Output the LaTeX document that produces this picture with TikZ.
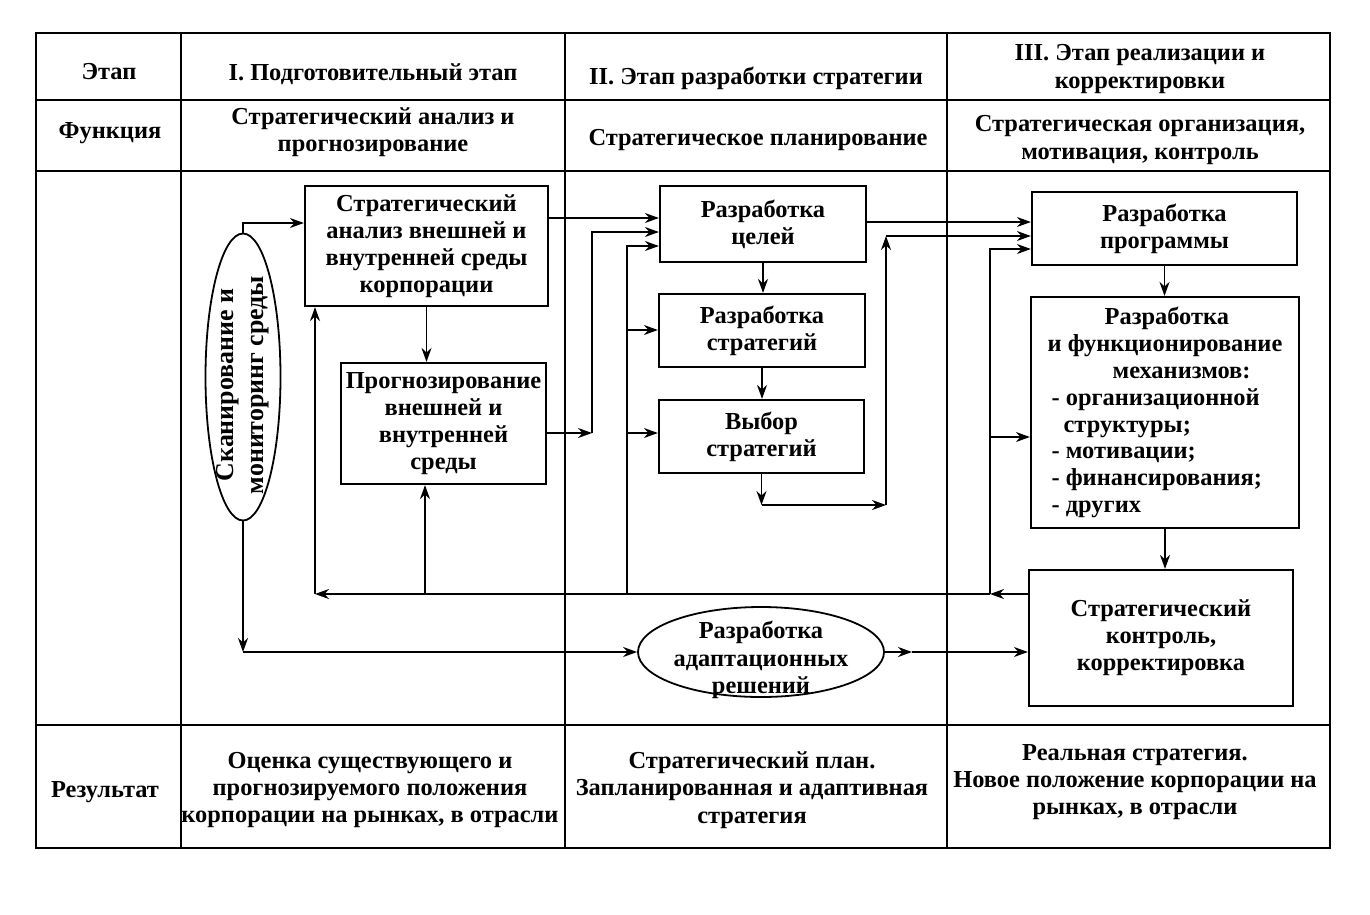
\documentclass[tikz,border=0pt]{standalone}
\usepackage{fontspec}
\setmainfont{Liberation Serif}
\usetikzlibrary{arrows.meta,shapes.geometric}
\begin{document}
\begin{tikzpicture}[x=1bp,y=-1bp,
  tline/.style={line width=1.6bp},
  box/.style={draw,line width=2.2bp,rectangle,inner sep=0pt,align=center,font=\bfseries\fontsize{24.5}{27}\selectfont},
  oval/.style={draw,line width=1.8bp,ellipse,inner sep=0pt},
  txt/.style={align=center,font=\bfseries\fontsize{24.5}{27.5}\selectfont,inner sep=0pt},
  arr/.style={line width=1.8bp,-{Stealth[length=14bp,width=10bp]}}
]
\fill[white] (0,0) rectangle (1370,914);
\useasboundingbox (0,0) rectangle (1370,914);
% table
\draw[tline] (36,33) rectangle (1330,848);
\draw[tline] (36,100) -- (1330,100);
\draw[tline] (36,171) -- (1330,171);
\draw[tline] (36,725) -- (1330,725);
\draw[tline] (181,33) -- (181,848);
\draw[tline] (565,33) -- (565,848);
\draw[tline] (947,33) -- (947,848);
% header texts
\node[txt] (h0) at (109,72) {Этап};
\node[txt] (h1) at (373,74) {I. Подготовительный этап};
\node[txt] (h2) at (756,78) {II. Этап разработки стратегии};
\node[txt] (h3) at (1140,69) {III. Этап реализации и\\корректировки};
\node[txt] (f0) at (110,133) {Функция};
\node[txt] (f1) at (373,132) {Стратегический анализ и\\прогнозирование};
\node[txt] (f2) at (758,140) {Стратегическое планирование};
\node[txt] (f3) at (1140,140) {Стратегическая организация,\\мотивация, контроль};
\node[txt] (r0) at (105,792) {Результат};
\node[txt] (r1) at (370,790) {Оценка существующего и\\прогнозируемого положения\\корпорации на рынках, в отрасли};
\node[txt] (r2) at (752,790) {Стратегический план.\\Запланированная и адаптивная\\стратегия};
\node[txt] (r3) at (1135,782) {Реальная стратегия.\\Новое положение корпорации на\\рынках, в отрасли};
% boxes
\node[box,minimum width=243bp,minimum height=120bp] (A) at (426.5,246) {Стратегический\\анализ внешней и\\внутренней среды\\корпорации};
\node[box,minimum width=205bp,minimum height=121bp] (B) at (443.5,423.5) {Прогнозирование\\внешней и\\внутренней\\среды};
\node[box,minimum width=206bp,minimum height=76bp] (C) at (763,224) {Разработка\\целей};
\node[box,minimum width=206bp,minimum height=73bp] (D) at (762,330.5) {Разработка\\стратегий};
\node[box,minimum width=205bp,minimum height=73bp] (E) at (761.5,436.5) {Выбор\\стратегий};
\node[box,minimum width=265bp,minimum height=73bp] (F) at (1164.5,228.5) {Разработка\\программы};
\node[box,align=left,minimum width=268bp,minimum height=231bp] (G) at (1165,412.5) {\hspace*{57bp}Разработка\\и функционирование\\\hspace*{65bp}механизмов:\\\hspace*{4bp}- организационной\\\hspace*{16bp}структуры;\\\hspace*{4bp}- мотивации;\\\hspace*{4bp}- финансирования;\\\hspace*{4bp}- других};
\node[box,minimum width=264bp,minimum height=136bp] (H) at (1161,638) {Стратегический\\контроль,\\корректировка};
% ellipses
\node[oval,minimum width=75bp,minimum height=287bp] (S) at (243,377) {};
\node[txt,rotate=90,font=\bfseries\fontsize{26}{30}\selectfont] (St) at (243,385) {Сканирование и\\мониторинг среды};
\node[oval,minimum width=246bp,minimum height=90bp] (I) at (761,652) {};
\node[txt] (It) at (761,660) {Разработка\\адаптационных\\решений};
% connectors
\coordinate (k1) at (0,223);
\draw[arr] (S.north) -- (S.north |- k1) -- (k1 -| A.west);
\draw[arr] (A.south) -- (A.south |- B.north);
\coordinate (k3) at (0,218);
\draw[arr] (k3 -| A.east) -- (k3 -| C.west);
\coordinate (j4) at (592,433);
\coordinate (j4b) at (592,232);
\draw[arr] (j4 -| B.east) -- (j4);
\draw[arr] (j4) -- (j4b) -- (j4b -| C.west);
% feedback
\coordinate (fbR) at (990,594);
\coordinate (fbL) at (315,594);
\draw[arr] (fbR -| H.west) -- (fbR);
\draw[arr] (fbR) -- (fbL);
\draw[arr] (fbL) -- (fbL |- A.south);
\coordinate (v1) at (425,594);
\draw[arr] (v1) -- (v1 |- B.south);
\coordinate (v2) at (627,594);
\coordinate (v2t) at (627,246);
\draw[arr] (v2) -- (v2t) -- (v2t -| C.west);
\coordinate (v2d) at (627,330);
\draw[arr] (v2d) -- (v2d -| D.west);
\coordinate (v2e) at (627,433);
\draw[arr] (v2e) -- (v2e -| E.west);
\coordinate (v3t) at (990,249);
\draw[arr] (fbR) -- (v3t) -- (v3t -| F.west);
\coordinate (v3g) at (990,437);
\draw[arr] (v3g) -- (v3g -| G.west);
% stage II chain
\draw[arr] (C.south) -- (C.south |- D.north);
\draw[arr] (D.south) -- (D.south |- E.north);
\coordinate (k6b) at (886,505);
\coordinate (k6c) at (886,236);
\draw[arr] (E.south) -- (E.south |- k6b);
\draw[arr] (E.south |- k6b) -- (k6b);
\draw[arr] (k6b) -- (k6c);
\draw[arr] (k6c) -- (k6c -| F.west);
\coordinate (k7) at (0,222);
\draw[arr] (k7 -| C.east) -- (k7 -| F.west);
% stage III chain
\draw[arr] (F.south) -- (F.south |- G.north);
\draw[arr] (G.south) -- (G.south |- H.north);
% adaptive
\draw[arr] (S.south) -- (S.south |- I.west);
\draw[arr] (S.south |- I.west) -- (I.west);
\coordinate (k12) at (912,652);
\draw[arr] (I.east) -- (k12);
\draw[arr] (k12) -- (k12 -| H.west);
\end{tikzpicture}
\end{document}
